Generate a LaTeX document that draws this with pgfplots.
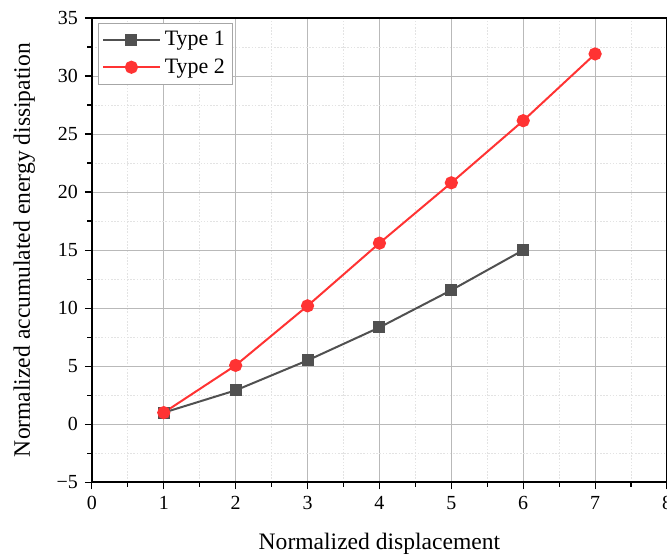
\documentclass[border=0pt]{standalone}
\usepackage{fontspec}
\setmainfont{Liberation Serif}
\usepackage{pgfplots}
\pgfplotsset{compat=1.18}
\definecolor{typeone}{HTML}{505050}
\definecolor{typetwo}{HTML}{FF3333}
\begin{document}
\begin{tikzpicture}
\begin{axis}[
  name=ax,
  scale only axis,
  width=288pt, height=232.5pt,
  xmin=0, xmax=8, ymin=-5, ymax=35,
  xtick={0,1,...,8}, ytick={-5,0,...,35},
  xticklabels={0,1,2,3,4,5,6,7,8},
  yticklabels={−5,0,5,10,15,20,25,30,35},
  minor x tick num=1, minor y tick num=1,
  tick pos=left, tick align=outside,
  major tick length=3.5pt, minor tick length=2.2pt,
  every tick/.style={black, line width=0.6pt},
  grid=both,
  major grid style={gray!55, line width=0.5pt},
  minor grid style={gray!22, dash pattern=on 0.8pt off 0.8pt, line width=0.4pt},
  axis line style={black, line width=0.8pt},
  ticklabel style={font=\fontsize{10}{12}\selectfont},
  label style={font=\fontsize{11.8}{14}\selectfont},
  xlabel={Normalized displacement},
  ylabel={Normalized accumulated energy dissipation},
  xlabel shift=5pt, ylabel shift=4pt,
  legend style={at={(0.01,0.99)}, anchor=north west, draw=gray!70,
    font=\fontsize{11}{13}\selectfont, row sep=1pt, inner sep=2pt},
  legend cell align=left,
  legend image code/.code={\draw[mark repeat=2,mark phase=2] plot coordinates {(0cm,0cm) (0.5cm,0cm) (1cm,0cm)};},
]
\addplot[typeone, line width=1pt, mark=square*, mark size=2.5pt] coordinates {
  (1,1.0) (2,2.92) (3,5.5) (4,8.34) (5,11.55) (6,15.0)};
\addlegendentry{Type 1}
\addplot[typetwo, line width=1pt, mark=*, mark size=2.8pt] coordinates {
  (1,1.0) (2,5.07) (3,10.2) (4,15.6) (5,20.8) (6,26.15) (7,31.9)};
\addlegendentry{Type 2}
\end{axis}
\pgfresetboundingbox
\path[use as bounding box] ([xshift=-46pt,yshift=-37pt]ax.south west) rectangle ([yshift=9pt]ax.north east);
\end{tikzpicture}
\end{document}
